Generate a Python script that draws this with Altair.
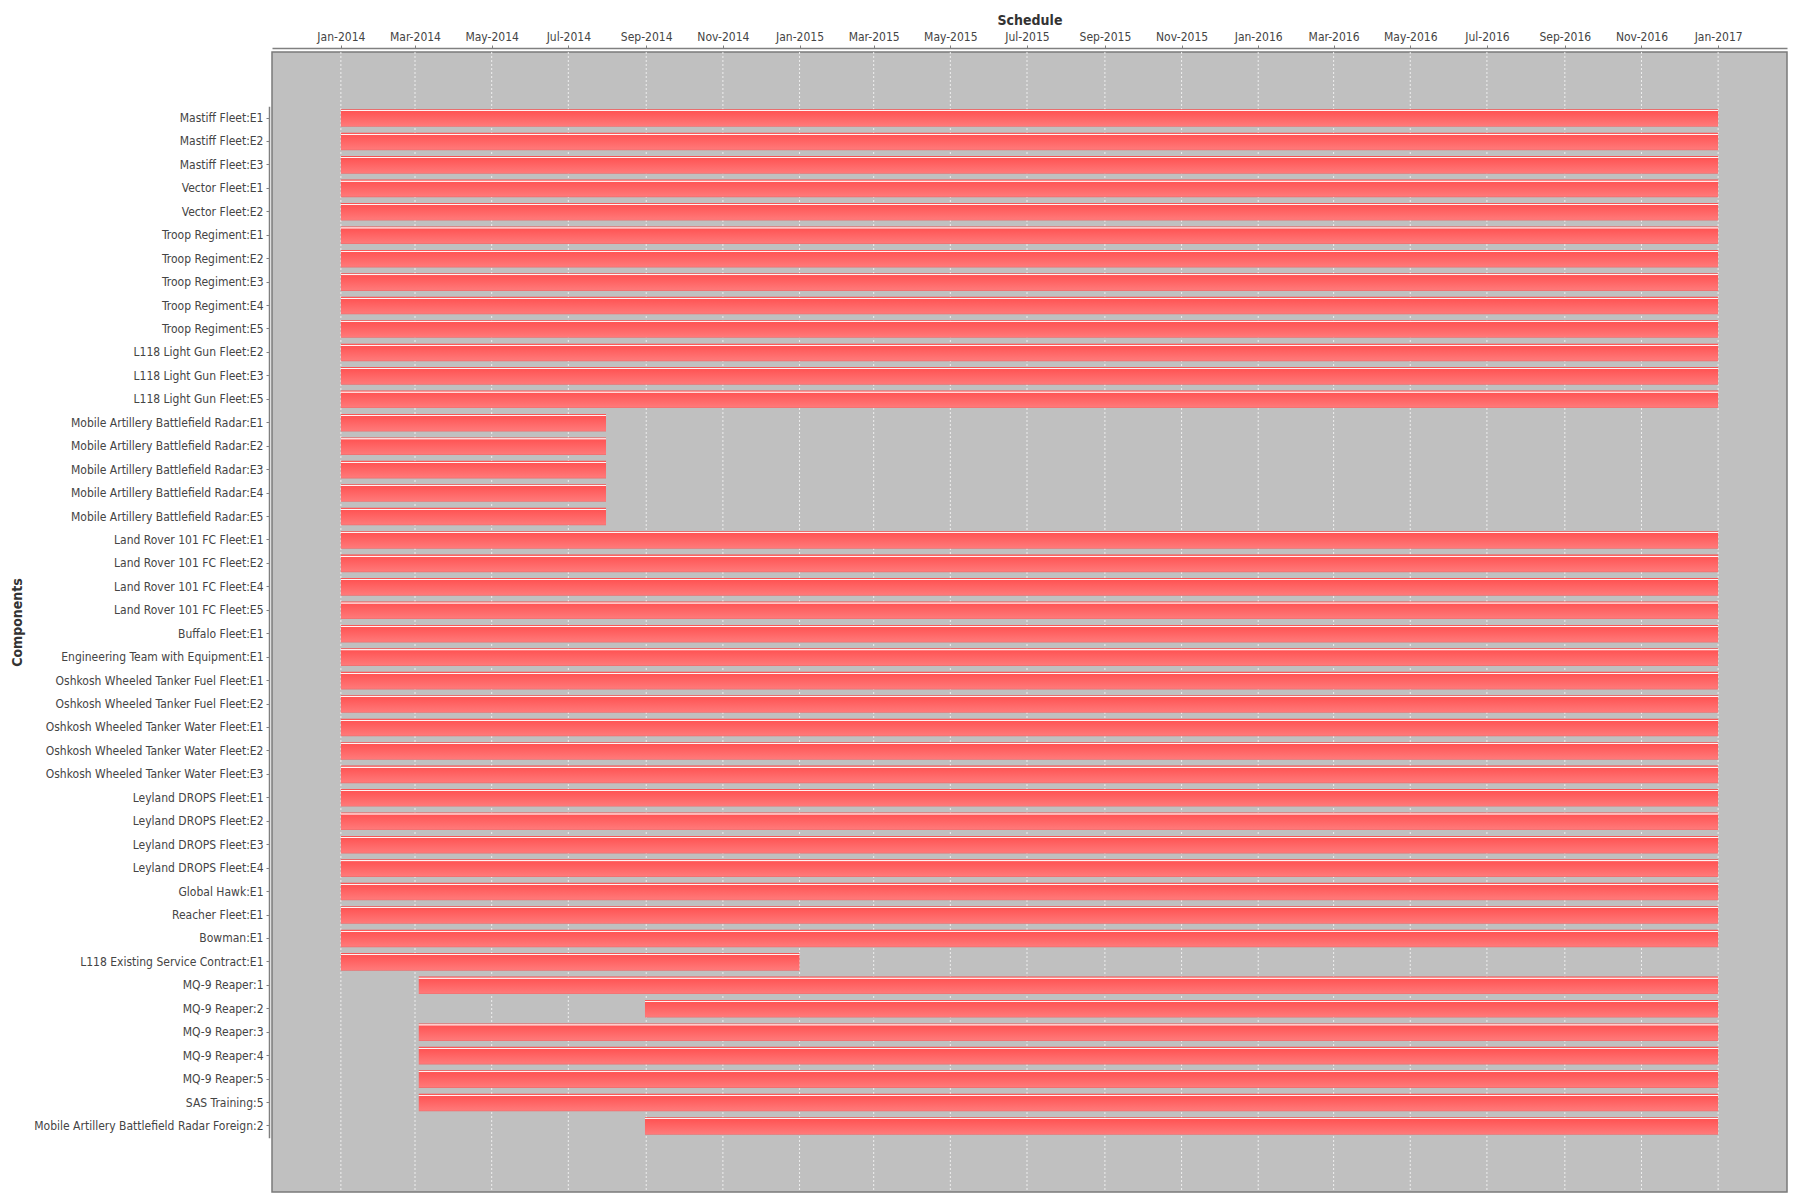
import altair as alt
import pandas as pd

components = [
    "Mastiff Fleet:E1", "Mastiff Fleet:E2", "Mastiff Fleet:E3",
    "Vector Fleet:E1", "Vector Fleet:E2",
    "Troop Regiment:E1", "Troop Regiment:E2", "Troop Regiment:E3", "Troop Regiment:E4", "Troop Regiment:E5",
    "L118 Light Gun Fleet:E2", "L118 Light Gun Fleet:E3", "L118 Light Gun Fleet:E5",
    "Mobile Artillery Battlefield Radar:E1", "Mobile Artillery Battlefield Radar:E2",
    "Mobile Artillery Battlefield Radar:E3", "Mobile Artillery Battlefield Radar:E4",
    "Mobile Artillery Battlefield Radar:E5",
    "Land Rover 101 FC Fleet:E1", "Land Rover 101 FC Fleet:E2", "Land Rover 101 FC Fleet:E4",
    "Land Rover 101 FC Fleet:E5",
    "Buffalo Fleet:E1", "Engineering Team with Equipment:E1",
    "Oshkosh Wheeled Tanker Fuel Fleet:E1", "Oshkosh Wheeled Tanker Fuel Fleet:E2",
    "Oshkosh Wheeled Tanker Water Fleet:E1", "Oshkosh Wheeled Tanker Water Fleet:E2",
    "Oshkosh Wheeled Tanker Water Fleet:E3",
    "Leyland DROPS Fleet:E1", "Leyland DROPS Fleet:E2", "Leyland DROPS Fleet:E3", "Leyland DROPS Fleet:E4",
    "Global Hawk:E1", "Reacher Fleet:E1", "Bowman:E1", "L118 Existing Service Contract:E1",
    "MQ-9 Reaper:1", "MQ-9 Reaper:2", "MQ-9 Reaper:3", "MQ-9 Reaper:4", "MQ-9 Reaper:5",
    "SAS Training:5", "Mobile Artillery Battlefield Radar Foreign:2",
]

start_dates = (
    ["2014-01-01"] * 37
    + ["2014-03-04", "2014-08-31", "2014-03-04", "2014-03-04", "2014-03-04", "2014-03-04", "2014-08-31"]
)

end_dates = (
    ["2017-01-01"] * 13
    + ["2014-07-31"] * 5
    + ["2017-01-01"] * 18
    + ["2015-01-01"]
    + ["2017-01-01"] * 7
)

df = pd.DataFrame({"component": components, "start": start_dates, "end": end_dates})

# axis range with 5% margins either side of the 2014-2017 span
lo = pd.Timestamp("2014-01-01")
hi = pd.Timestamp("2017-01-01")
margin = (hi - lo) * 0.05
dom = [int((lo - margin).value // 10**6), int((hi + margin).value // 10**6)]
tick_dates = pd.date_range("2014-01-01", "2017-01-01", freq="2MS")
tick_vals = [int(t.value // 10**6) for t in tick_dates]
grid_df = pd.DataFrame({"t": [t.strftime("%Y-%m-%d") for t in tick_dates]})

FONT = "DejaVu Sans Condensed"
PLOT_W, PLOT_H = 1515, 1140

xscale = alt.Scale(type="utc", domain=dom, nice=False)

xaxis = alt.Axis(
    orient="top",
    title="Schedule",
    values=tick_vals,
    format="%b-%Y",
    offset=4,
    grid=False,
    domainColor="#808080",
    domainWidth=1.5,
    tickColor="#808080",
    tickSize=3,
    labelPadding=2,
    labelFont=FONT,
    labelFontSize=12,
    labelColor="#444444",
    titleFont=FONT,
    titleFontSize=14,
    titleFontWeight="bold",
    titleColor="#333333",
    titlePadding=3,
)

bar_fill = alt.Gradient(
    gradient="linear",
    x1=0, x2=0, y1=0, y2=1,
    stops=[
        alt.GradientStop(offset=0.0, color="#F24F4F"),
        alt.GradientStop(offset=0.05, color="#FF5A5A"),
        alt.GradientStop(offset=0.065, color="#FFF4F4"),
        alt.GradientStop(offset=0.11, color="#FFF4F4"),
        alt.GradientStop(offset=0.125, color="#FF5454"),
        alt.GradientStop(offset=0.93, color="#FF7878"),
        alt.GradientStop(offset=1.0, color="#E86E6E"),
    ],
)

grid = (
    alt.Chart(grid_df)
    .mark_rule(color="#EEEEEE", strokeDash=[2, 2], strokeWidth=1)
    .encode(
        x=alt.X("t:T", scale=xscale, axis=xaxis),
        y=alt.value(0),
        y2=alt.value(PLOT_H),
    )
)

bars = (
    alt.Chart(df)
    .mark_bar(color=bar_fill, cornerRadius=0)
    .encode(
        x=alt.X("start:T", scale=xscale, axis=xaxis),
        x2="end:T",
        y=alt.Y(
            "component:N",
            sort=components,
            scale=alt.Scale(paddingInner=0.25, paddingOuter=0.125, range=[54.3, 1085.7]),
            axis=alt.Axis(
                title="Components",
                offset=3,
                grid=False,
                domainColor="#808080",
                domainWidth=1.5,
                tickColor="#808080",
                tickSize=3,
                labelPadding=3,
                labelFont=FONT,
                labelFontSize=12,
                labelColor="#444444",
                labelLimit=400,
                titleFont=FONT,
                titleFontSize=14,
                titleFontWeight="bold",
                titleColor="#333333",
                titleX=-252,
                titleY=570,
                titleAngle=-90,
                titleBaseline="middle",
                titleAlign="center",
            ),
        ),
    )
)

chart = (
    alt.layer(grid, bars)
    .properties(
        width=PLOT_W,
        height=PLOT_H,
        padding={"left": 272, "top": 52, "right": 13, "bottom": 8},
        autosize=alt.AutoSizeParams(type="none"),
        background="white",
    )
    .configure_view(fill="#C0C0C0", stroke="#7A7A7A", strokeWidth=1.5)
)

chart.save("out.html", embed_options={"renderer": "svg", "actions": False})
